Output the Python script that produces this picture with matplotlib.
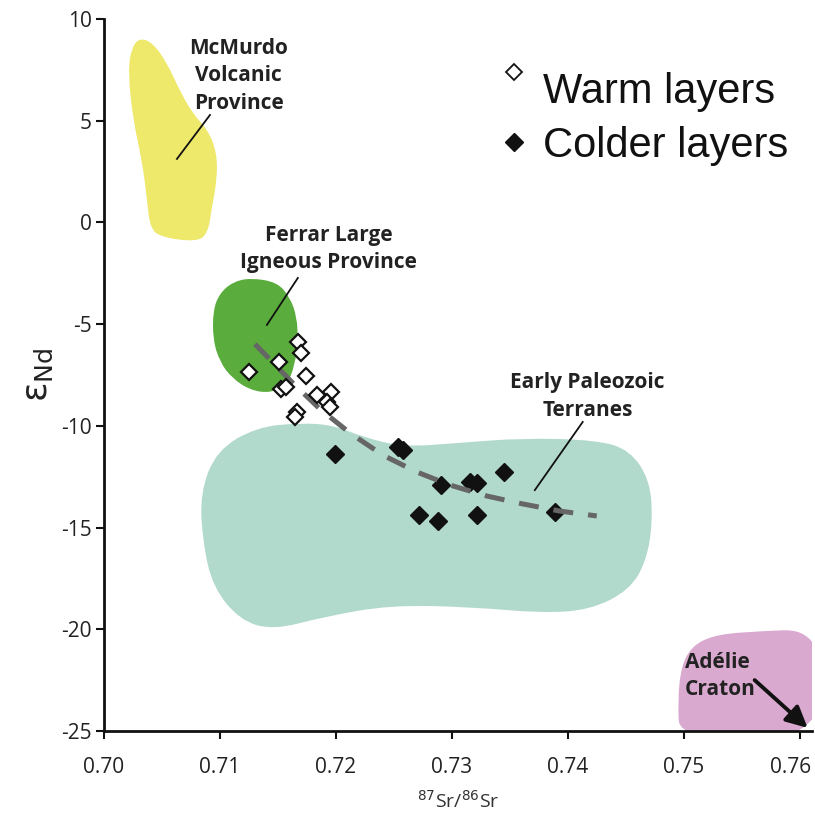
import numpy as np
import matplotlib
matplotlib.use("Agg")
import matplotlib.pyplot as plt
import matplotlib.transforms as mtransforms
from matplotlib.path import Path
from matplotlib.patches import PathPatch

plt.rcParams["axes.unicode_minus"] = False

# Warm layers (open diamonds)
warm_sr = [0.71675, 0.71696, 0.71511, 0.71253, 0.71746, 0.71523, 0.71573,
           0.71834, 0.71961, 0.71920, 0.71948, 0.71664, 0.71651]
warm_nd = [-5.87, -6.41, -6.85, -7.34, -7.53, -8.21, -8.09,
           -8.49, -8.32, -8.82, -9.09, -9.30, -9.55]

# Colder layers (filled diamonds)
cold_sr = [0.71991, 0.72534, 0.72578, 0.72911, 0.73155, 0.73218, 0.73451,
           0.72718, 0.72877, 0.73218, 0.73894]
cold_nd = [-11.40, -11.03, -11.19, -12.91, -12.75, -12.83, -12.29,
           -14.39, -14.68, -14.39, -14.22]

# mixing trend (dashed)
trend_sr = [0.71302, 0.71629, 0.71862, 0.72121, 0.72405, 0.72698, 0.72983,
            0.73302, 0.73612, 0.73931, 0.74250]
trend_nd = [-5.98, -7.90, -9.17, -10.35, -11.44, -12.27, -12.91,
            -13.45, -13.84, -14.19, -14.43]

# source fields (outline control points)
mcmurdo_sr = [0.70310, 0.70422, 0.70543, 0.70638, 0.70759, 0.70897, 0.70974,
              0.70974, 0.70931, 0.70897, 0.70802, 0.70483, 0.70397, 0.70371,
              0.70328, 0.70250, 0.70207, 0.70241]
mcmurdo_nd = [9.07, 8.82, 7.84, 6.66, 5.38, 4.54, 3.41,
              2.08, 0.76, -0.52, -0.96, -0.72, -0.23, 1.10,
              3.07, 5.03, 7.49, 8.62]

ferrar_sr = [0.71259, 0.71491, 0.71603, 0.71664, 0.71672, 0.71647, 0.71578,
             0.71431, 0.71259, 0.71103, 0.71000, 0.70940, 0.70940, 0.71000,
             0.71112]
ferrar_nd = [-2.73, -2.93, -3.67, -4.65, -5.78, -7.01, -7.99,
             -8.39, -8.24, -7.65, -6.86, -5.78, -4.31, -3.47,
             -2.93]

terranes_sr = [0.71690, 0.71319, 0.70974, 0.70828, 0.70853, 0.70940, 0.71172,
               0.71457, 0.71888, 0.72466, 0.73181, 0.73759, 0.74190, 0.74534,
               0.74681, 0.74733, 0.74707, 0.74534, 0.74250, 0.73612, 0.73043,
               0.72578, 0.72233, 0.71974]
terranes_nd = [-9.86, -10.06, -11.19, -13.30, -15.76, -17.93, -19.55,
               -20.04, -19.40, -18.81, -18.91, -19.20, -19.06, -18.07,
               -16.60, -14.63, -12.66, -11.19, -10.70, -10.60, -10.85,
               -11.04, -10.55, -9.96]

adelie_sr = [0.74966, 0.74948, 0.74980, 0.75070, 0.75240, 0.75526, 0.76200,
             0.76200]
adelie_nd = [-25.45, -23.48, -21.80, -20.85, -20.33, -20.12, -19.98, -25.45]

x_ticks = [0.70, 0.71, 0.72, 0.73, 0.74, 0.75, 0.76]
y_ticks = [10, 5, 0, -5, -10, -15, -20, -25]


def blob(xs, ys, color):
    pts = np.column_stack([xs, ys])
    mids = (pts + np.roll(pts, -1, axis=0)) / 2
    verts = [mids[-1]]
    codes = [Path.MOVETO]
    for p, m in zip(pts, mids):
        verts += [p, m]
        codes += [Path.CURVE3, Path.CURVE3]
    verts.append(mids[-1])
    codes.append(Path.CLOSEPOLY)
    return PathPatch(Path(verts, codes), facecolor=color, edgecolor="none", zorder=1)


fig = plt.figure(figsize=(8.15, 8.18), dpi=100)
ax = fig.add_axes([0.1276, 0.1064, 0.8692, 0.8704])

ax.add_patch(blob(mcmurdo_sr, mcmurdo_nd, "#eee86b"))
ax.add_patch(blob(ferrar_sr, ferrar_nd, "#5aad3d"))
ax.add_patch(blob(terranes_sr, terranes_nd, "#b1d9cc"))
ax.add_patch(blob(adelie_sr, adelie_nd, "#d9a9cf"))

ax.plot(cold_sr, cold_nd, linestyle="none", marker="D", markersize=9.5,
        color="#111111", zorder=3)
ax.plot(trend_sr, trend_nd, color="#666666", linewidth=3.6,
        dashes=(4, 3), zorder=4)
ax.plot(warm_sr, warm_nd, linestyle="none", marker="D", markersize=8,
        markerfacecolor="white", markeredgecolor="#111111",
        markeredgewidth=1.6, zorder=5)

# labels + leader lines
lab = dict(fontsize=15, fontweight="bold", color="#222222", family="Open Sans",
           ha="center", va="center", linespacing=1.4, zorder=6)
ax.text(0.71163, 7.2, "McMurdo\nVolcanic\nProvince", **lab)
ax.plot([0.70914, 0.70629], [5.28, 3.12], color="#111111", lw=1.3, zorder=6)
ax.text(0.71940, -1.3, "Ferrar Large\nIgneous Province", **lab)
ax.plot([0.71672, 0.71405], [-2.73, -5.04], color="#111111", lw=1.3, zorder=6)
ax.text(0.74172, -8.55, "Early Paleozoic\nTerranes", **lab)
ax.plot([0.74129, 0.73716], [-9.81, -13.16], color="#111111", lw=1.3, zorder=6)
ax.text(0.75007, -22.3, "Adélie\nCraton", **dict(lab, ha="left"))
ax.annotate("", xy=(0.76069, -24.85), xytext=(0.75612, -22.5),
            arrowprops=dict(arrowstyle="-|>", color="#111111", lw=2.8,
                            mutation_scale=32, shrinkA=0, shrinkB=0),
            annotation_clip=False, zorder=7)

# legend (hand placed like the original)
ax.plot([0.73534], [7.39], marker="D", markersize=8, markerfacecolor="white",
        markeredgecolor="#111111", markeredgewidth=1.3, linestyle="none")
ax.plot([0.73534], [3.95], marker="D", markersize=9.5, color="#111111",
        linestyle="none")
leg = dict(fontsize=30, family="Liberation Sans", color="#111111",
           ha="left", va="center")
ax.text(0.73785, 6.42, "Warm layers", **leg)
ax.text(0.73785, 3.78, "Colder layers", **leg)

ax.set_xlim(0.70, 0.7611)
ax.set_ylim(-25, 10)
ax.set_xticks(x_ticks)
ax.set_xticklabels([f"{t:.2f}" for t in x_ticks])
ax.set_yticks(y_ticks)
for s in ("top", "right"):
    ax.spines[s].set_visible(False)
for s in ("left", "bottom"):
    ax.spines[s].set_linewidth(2)
    ax.spines[s].set_color("#111111")
ax.tick_params(direction="out", length=6, width=1.5, colors="#111111",
               labelcolor="#222222", labelsize=15)
ax.tick_params(axis="y", pad=3)
ax.tick_params(axis="x", pad=13)
for t in ax.get_xticklabels() + ax.get_yticklabels():
    t.set_family("Open Sans")
last = ax.get_xticklabels()[-1]
last.set_transform(last.get_transform() +
                   mtransforms.ScaledTranslation(-9 / 100, 0, fig.dpi_scale_trans))

ax.set_xlabel(r"$^{87}$Sr/$^{86}$Sr", fontsize=14, color="#333333",
              family="Open Sans", labelpad=8)
ax.set_ylabel(r"ε$_{\mathregular{Nd}}$", fontsize=26, color="#222222",
              family="DejaVu Sans", labelpad=4)

fig.savefig("out.png", dpi=100, facecolor="white")
plt.close(fig)
